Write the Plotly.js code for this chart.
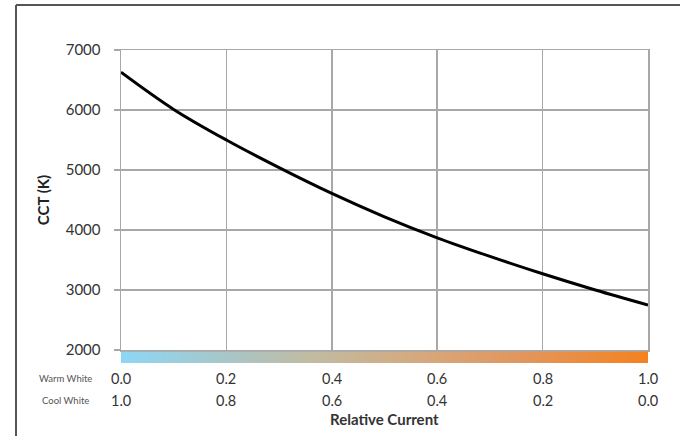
<!DOCTYPE html>
<html>
<head>
<meta charset="utf-8">
<script src="https://cdn.plot.ly/plotly-3.0.1.min.js"></script>
<style>html,body{margin:0;padding:0;background:#fff;}#chart{width:689px;height:436px;}</style>
</head>
<body>
<div id="chart"></div>
<script>
// ---- data ----
var ratio = [0, 0.1, 0.2, 0.3, 0.4, 0.5, 0.6, 0.7, 0.8, 0.9, 1.0];
var cct = [6630, 6010, 5500, 5040, 4610, 4220, 3870, 3560, 3270, 3000, 2750];
var tickPos = [0, 0.2, 0.4, 0.6, 0.8, 1.0];
var warmLabels = ["0.0", "0.2", "0.4", "0.6", "0.8", "1.0"];
var coolLabels = ["1.0", "0.8", "0.6", "0.4", "0.2", "0.0"];
var yTicks = [2000, 3000, 4000, 5000, 6000, 7000];
var gradientEnds = [0, 1];

var FONT = "Lato, 'Open Sans', sans-serif";
var GRID = '#a8a8a8';

var curve = {
  x: ratio, y: cct, type: 'scatter', mode: 'lines',
  line: {color: '#000', width: 3, shape: 'spline'},
  xaxis: 'x', yaxis: 'y', hoverinfo: 'skip'
};

var bar = {
  type: 'heatmap', x: gradientEnds, y: [0], z: [gradientEnds],
  zsmooth: 'best', showscale: false, hoverinfo: 'skip',
  colorscale: [[0,'#8dd7f5'],[0.2,'#a8c6c8'],[0.35,'#c0bca4'],[0.55,'#d4aa80'],[0.75,'#e1975f'],[1,'#f5821f']],
  xaxis: 'x', yaxis: 'y2'
};

var annotations = [];
function py(p){ return (363 - p) / 313; }
function px(p){ return (p - 121) / 527; }
for (var i = 0; i < tickPos.length; i++) {
  annotations.push({x: tickPos[i], y: py(378), xref: 'x', yref: 'paper', text: warmLabels[i],
    showarrow: false, xanchor: 'center', yanchor: 'middle', font: {family: FONT, size: 14.5, color: '#333'}});
  annotations.push({x: tickPos[i], y: py(400), xref: 'x', yref: 'paper', text: coolLabels[i],
    showarrow: false, xanchor: 'center', yanchor: 'middle', font: {family: FONT, size: 14.5, color: '#333'}});
}
annotations.push({x: px(65), y: py(378), xref: 'paper', yref: 'paper', text: 'Warm White',
  showarrow: false, xanchor: 'center', yanchor: 'middle', font: {family: FONT, size: 9.5, color: '#555'}});
annotations.push({x: px(65), y: py(400), xref: 'paper', yref: 'paper', text: 'Cool White',
  showarrow: false, xanchor: 'center', yanchor: 'middle', font: {family: FONT, size: 9.5, color: '#555'}});
annotations.push({x: 0.5, y: py(419), xref: 'paper', yref: 'paper', text: '<b>Relative Current</b>',
  showarrow: false, xanchor: 'center', yanchor: 'middle', font: {family: FONT, size: 15, color: '#333'}});

var layout = {
  width: 689, height: 436,
  margin: {l: 121, r: 41, t: 50, b: 73, pad: 0},
  paper_bgcolor: '#fff', plot_bgcolor: '#fff',
  showlegend: false,
  font: {family: FONT, color: '#333'},
  xaxis: {
    range: [0, 1], tickvals: tickPos, showticklabels: false,
    showgrid: true, gridcolor: GRID, gridwidth: 1.5,
    showline: true, mirror: true, linecolor: GRID, linewidth: 1.5,
    zeroline: false, ticks: '', fixedrange: true, anchor: 'y'
  },
  yaxis: {
    domain: [13/313, 1], range: [2000, 7000], tickvals: yTicks,
    showgrid: true, gridcolor: GRID, gridwidth: 1.5, zeroline: false,
    showline: true, mirror: true, linecolor: GRID, linewidth: 1.5,
    ticks: 'outside', ticklen: 6, tickcolor: GRID, tickwidth: 1.5,
    ticklabelstandoff: 10,
    tickfont: {family: FONT, size: 15, color: '#333'},
    title: {text: '<b>CCT (K)</b>', font: {family: FONT, size: 15, color: '#222'}, standoff: 12},
    fixedrange: true
  },
  yaxis2: {
    domain: [0, 11.5/313], range: [-0.5, 0.5], anchor: 'x',
    showgrid: false, showticklabels: false, zeroline: false, ticks: '', showline: false, fixedrange: true
  },
  shapes: [
    {type: 'line', xref: 'paper', yref: 'paper', x0: px(16), x1: px(16), y0: py(5), y1: py(437),
      line: {color: '#555', width: 2}},
    {type: 'line', xref: 'paper', yref: 'paper', x0: px(16), x1: px(680), y0: py(5), y1: py(5),
      line: {color: '#555', width: 2}}
  ],
  annotations: annotations
};

Plotly.newPlot('chart', [bar, curve], layout, {displayModeBar: false, staticPlot: true});
</script>
</body>
</html>
